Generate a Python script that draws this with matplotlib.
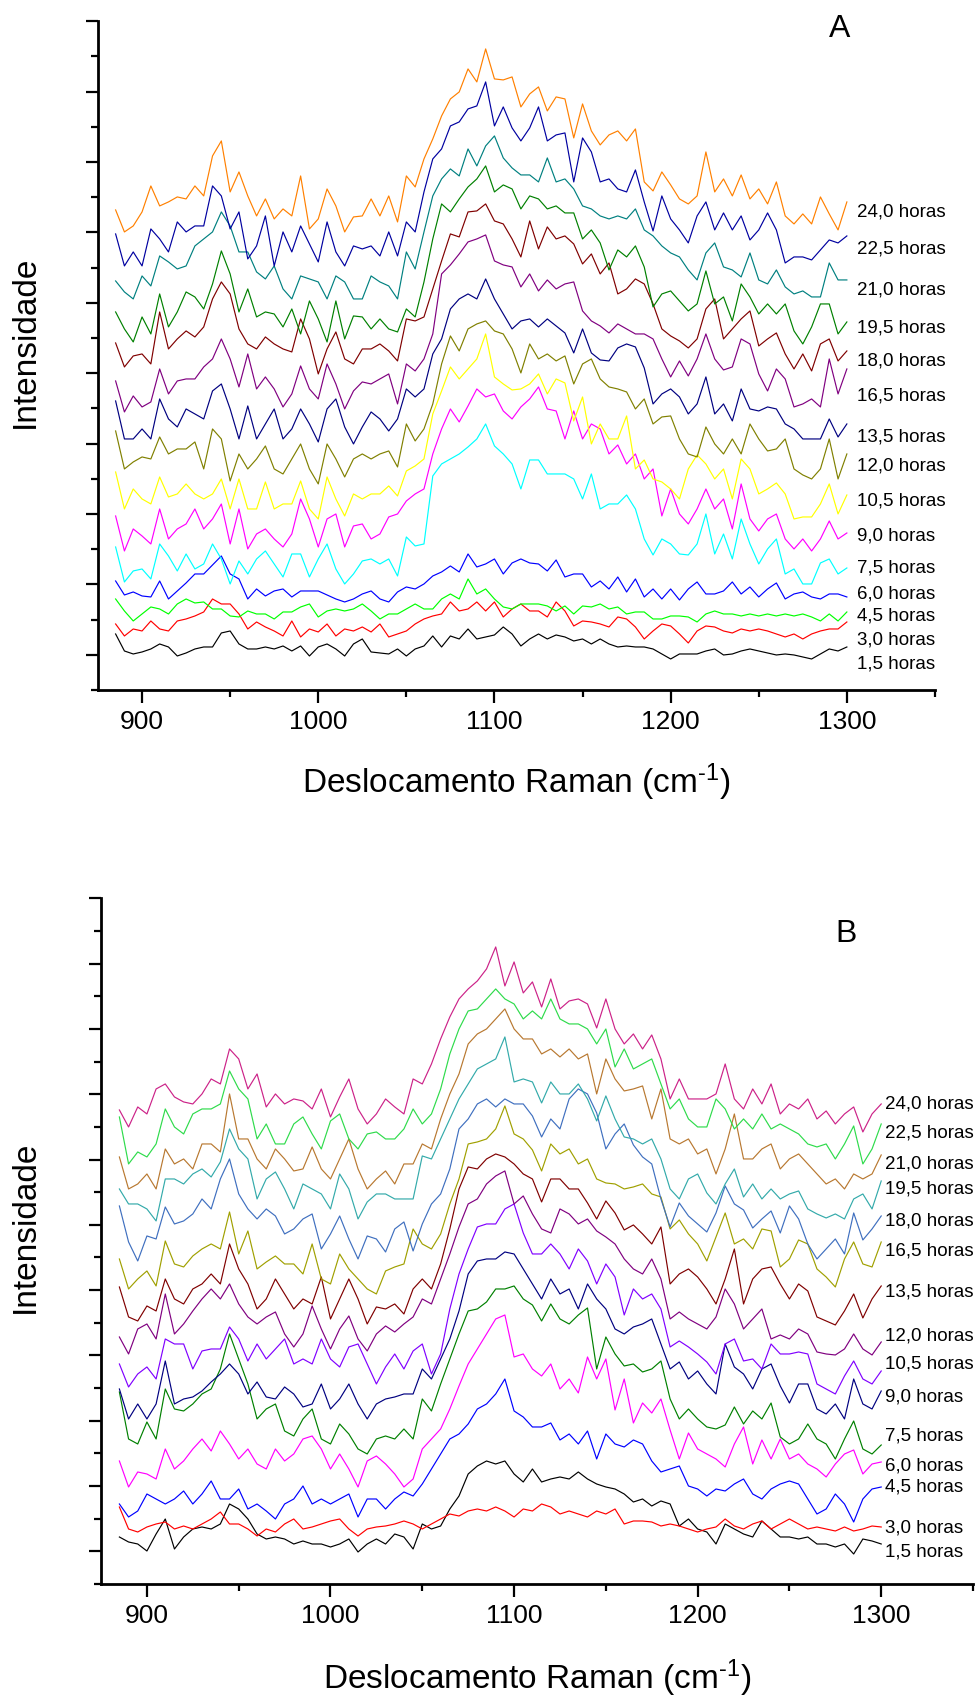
import numpy as np
import matplotlib.pyplot as plt
from matplotlib.ticker import MultipleLocator

plt.rcParams['font.family'] = ['Liberation Sans', 'DejaVu Sans']
plt.rcParams['mathtext.fontset'] = 'custom'
plt.rcParams['mathtext.rm'] = 'Liberation Sans'
plt.rcParams['mathtext.it'] = 'Liberation Sans:italic'
plt.rcParams['mathtext.bf'] = 'Liberation Sans:bold'

shift = np.arange(885, 1301, 5)

hours = ['1,5', '3,0', '4,5', '6,0', '7,5', '9,0', '10,5', '12,0',
         '13,5', '16,5', '18,0', '19,5', '21,0', '22,5', '24,0']

# ---- panel A: stacked spectra, arbitrary units ----
a_01_5 = [56,39,36,38,41,46,43,34,37,41,43,43,57,59,46,41,41,43,41,44,39,44,34,43,46,41,34,46,51,38,37,36,41,34,41,44,54,43,54,51,61,51,53,55,
          63,56,44,51,56,51,55,53,49,51,46,51,46,43,44,43,43,41,36,31,36,36,36,39,41,35,36,39,41,39,37,35,36,35,33,31,36,41,39,43]
a_03_0 = [66,54,61,59,69,61,59,69,71,74,78,91,86,86,76,61,68,63,59,54,69,53,61,58,66,54,61,59,63,58,66,53,56,59,66,71,74,76,88,79,81,88,79,88,
          73,81,86,79,79,73,88,79,64,69,68,66,63,73,71,63,51,59,66,64,56,47,59,64,63,59,57,61,59,61,59,56,53,56,51,56,59,61,61,68]
a_04_5 = [91,79,69,76,83,81,76,86,91,87,88,81,81,74,73,79,76,76,71,78,78,83,86,73,79,81,79,81,86,79,71,76,76,81,86,81,81,91,96,91,111,96,101,91,
          83,81,86,86,86,84,79,84,76,84,83,86,81,83,76,78,78,71,71,74,74,73,68,76,79,76,76,74,76,74,76,74,76,74,76,73,69,76,69,78]
a_06_0 = [109,95,98,94,93,109,91,99,107,116,116,125,134,116,111,91,101,94,99,101,93,99,99,99,95,91,88,91,96,99,91,88,98,103,101,106,114,118,124,118,136,123,126,131,
          116,127,131,127,126,119,130,113,116,116,103,109,101,113,98,111,93,101,91,101,90,101,108,96,96,99,108,96,103,93,101,107,91,96,98,93,91,96,96,93]
a_07_5 = [143,108,119,121,111,146,134,119,136,121,126,146,131,106,129,116,131,139,126,113,136,136,113,131,146,121,106,116,129,131,126,131,114,153,144,146,214,226,231,236,243,251,266,244,
          236,226,201,230,230,216,216,216,211,191,216,181,186,186,195,181,151,135,151,146,136,135,146,176,136,156,131,171,146,126,141,151,116,121,106,106,127,131,116,122]
a_09_0 = [174,139,161,154,146,181,151,161,166,181,161,171,186,146,181,141,156,161,151,143,156,191,171,143,171,176,143,164,166,151,156,173,176,189,196,201,236,261,281,268,284,301,293,296,
          279,271,283,291,303,281,279,251,279,251,266,261,236,245,226,236,211,221,174,201,176,166,181,201,181,191,161,206,171,159,171,176,151,141,151,139,151,169,151,157]
a_10_5 = [218,181,201,191,186,213,193,196,206,196,191,196,211,181,211,181,181,208,181,186,186,209,181,171,213,191,174,196,191,196,196,204,194,219,224,231,276,299,323,311,321,331,356,313,
          306,300,301,306,316,296,311,307,269,293,246,266,251,251,274,221,230,211,208,201,191,221,235,226,211,221,191,231,221,196,201,207,196,171,173,173,186,206,176,195]
a_12_0 = [259,221,228,233,231,253,236,241,241,248,221,261,251,209,236,221,231,244,221,216,231,246,221,206,246,231,213,231,236,231,236,239,223,266,249,261,286,326,354,339,361,366,369,359,
          356,341,317,346,331,336,329,334,306,326,331,311,303,301,298,281,291,266,273,274,251,236,233,263,246,236,251,236,266,251,239,241,251,221,215,211,221,251,211,236]
a_13_5 = [289,251,251,261,251,291,271,263,281,276,271,299,306,281,251,284,251,266,281,251,261,281,266,248,281,291,263,246,263,278,271,259,271,301,293,301,336,351,381,391,396,391,411,391,
          376,361,369,371,363,371,364,357,337,361,337,330,329,342,346,343,322,286,296,301,293,276,286,313,276,286,269,301,281,279,283,281,266,261,251,251,251,271,253,266]
a_16_5 = [309,278,294,283,288,321,296,309,311,311,323,331,351,331,303,336,301,313,301,283,296,324,301,291,326,306,281,299,308,306,311,316,286,326,319,331,356,416,425,436,448,451,455,429,
          425,423,403,416,399,410,401,406,408,379,369,364,357,366,361,356,356,351,331,313,329,314,331,356,331,320,323,351,346,316,299,321,311,283,286,291,283,331,296,321]
a_18_0 = [347,323,334,336,326,378,341,351,359,353,363,391,408,396,361,346,341,353,346,341,338,371,351,316,341,358,331,326,341,341,346,339,329,371,369,373,401,429,456,453,478,479,486,469,
          466,451,433,469,441,463,451,454,446,426,436,416,427,396,401,411,406,386,361,354,349,342,351,381,391,351,361,371,379,344,351,357,336,321,336,319,346,351,329,339]
a_19_5 = [378,361,348,373,356,396,363,378,398,393,381,406,439,416,378,401,373,378,376,363,381,356,389,371,348,389,351,374,373,361,371,361,358,381,373,408,451,486,478,491,503,511,524,498,
          505,501,481,494,491,481,484,477,477,451,460,447,420,440,433,444,423,383,396,399,389,379,386,419,386,393,369,406,393,376,386,376,386,359,346,363,386,386,356,368]
a_21_0 = [409,398,391,414,404,434,428,421,424,444,451,458,478,464,438,438,418,411,424,401,391,414,411,408,391,414,408,391,391,414,408,404,391,438,421,458,494,511,521,514,541,524,544,554,
          532,522,515,515,508,532,508,511,501,484,481,474,471,474,471,481,460,454,444,437,433,420,410,437,447,423,420,413,437,410,406,420,403,396,399,393,393,427,410,410]
a_22_5 = [456,424,438,424,461,451,438,468,458,464,464,504,494,461,478,431,444,474,424,458,438,464,446,428,468,438,424,444,441,444,434,458,434,468,458,498,531,541,564,568,581,584,608,564,
          583,562,549,562,583,549,555,557,508,552,538,508,511,501,498,520,488,459,494,471,460,447,474,488,460,477,460,474,450,460,477,460,427,433,433,430,440,450,447,454]
a_24_0 = [480,458,464,478,504,484,488,493,491,504,494,534,549,498,518,494,474,491,471,481,474,514,461,471,501,484,458,473,474,491,474,494,468,514,503,531,551,574,591,598,621,608,641,611,
          610,613,583,596,603,579,593,591,552,586,559,545,555,559,549,561,508,499,518,505,491,486,494,538,498,511,494,515,491,501,486,508,474,466,476,466,493,476,460,488]

# ---- panel B: stacked spectra, arbitrary units ----
b_01_5 = [47,42,40,33,50,65,35,47,55,57,55,60,80,75,65,50,45,47,45,40,43,40,40,37,40,45,32,40,45,40,50,47,35,60,55,58,75,88,110,118,123,120,
          123,110,102,115,102,105,107,105,112,105,100,97,95,90,82,85,78,83,80,58,65,55,52,40,60,55,50,47,63,55,47,47,45,47,40,40,37,40,30,45,43,40]
b_03_0 = [77,55,52,57,60,62,55,58,55,60,65,72,60,60,55,48,55,52,60,65,55,57,60,63,65,55,48,55,57,58,60,63,60,55,60,65,70,68,73,75,73,77,
          73,67,75,73,80,77,70,73,70,67,73,70,75,60,63,63,62,58,60,58,55,52,55,57,65,58,55,60,63,55,60,65,60,55,57,55,53,57,53,55,58,57]
b_04_5 = [80,67,73,90,85,80,85,93,80,90,103,85,85,95,75,80,73,65,80,85,98,80,85,80,85,90,67,85,85,75,85,92,88,100,115,130,145,150,160,175,180,190,
          205,173,167,157,157,161,144,150,140,153,125,150,140,137,144,140,123,112,115,118,98,95,88,95,93,100,105,90,85,95,100,103,100,85,70,75,90,80,62,85,95,97]
b_06_0 = [123,97,112,110,105,135,115,123,135,145,133,153,140,125,135,120,115,135,123,130,145,148,135,115,130,115,97,123,128,120,110,97,105,135,145,155,175,198,220,235,250,265,
          269,227,230,215,208,220,195,205,191,227,205,225,174,205,161,181,171,185,154,125,151,135,130,125,117,140,157,120,144,125,145,125,130,120,115,107,120,130,134,110,120,122]
b_07_5 = [192,145,140,162,145,195,175,173,180,190,195,215,250,225,200,165,175,180,153,148,165,175,145,140,160,150,135,130,145,148,145,155,145,185,173,200,225,250,273,275,282,295,
          295,298,285,279,263,280,265,260,269,276,215,247,230,218,220,212,215,223,185,165,175,165,157,155,159,177,160,173,165,181,147,140,145,160,145,140,125,145,163,135,130,139]
b_09_0 = [195,165,180,165,180,223,180,185,187,193,202,210,220,210,190,202,187,185,197,190,177,180,200,175,185,200,180,165,180,185,187,190,190,215,205,225,245,273,310,323,325,325,
          332,330,315,300,285,305,290,295,275,300,285,275,255,250,257,260,265,240,215,222,205,213,200,190,240,217,210,195,215,220,198,181,200,200,175,170,180,165,205,180,175,193]
b_10_5 = [220,197,210,217,205,245,240,240,215,233,235,235,257,245,223,240,225,235,245,220,225,220,245,225,217,237,240,220,200,217,230,215,233,240,210,230,275,310,335,357,360,360,
          375,380,351,330,330,340,330,315,335,323,300,320,307,269,295,285,290,275,237,243,237,230,222,210,240,245,223,225,215,240,230,230,232,230,200,195,190,208,223,205,200,213]
b_12_0 = [247,230,255,260,245,290,250,260,273,285,295,285,300,280,267,260,267,272,250,237,250,278,255,235,255,268,245,233,250,258,252,260,267,285,280,305,330,357,380,385,400,408,
          413,380,388,370,355,351,375,370,360,365,353,347,340,325,315,310,325,305,265,272,265,260,255,267,295,280,255,265,275,245,249,245,255,250,232,230,229,235,250,235,229,242]
b_13_5 = [297,267,263,278,273,305,285,280,295,300,310,300,340,315,300,275,285,305,290,275,285,280,307,265,285,305,285,260,277,275,280,270,295,305,295,320,355,395,417,415,425,430,
          427,420,410,405,382,405,405,395,395,381,365,383,371,354,359,350,340,357,300,310,315,307,295,280,305,335,280,305,315,317,300,285,300,293,267,263,259,273,290,266,285,298]
b_16_5 = [325,295,305,313,298,343,320,317,328,335,340,335,372,330,353,315,322,328,320,320,310,340,305,300,330,315,305,295,290,313,317,320,355,340,335,350,380,405,440,442,445,455,
          478,450,445,434,413,440,430,435,420,425,405,401,400,395,397,400,390,387,355,364,350,340,323,347,371,340,345,335,355,353,317,325,344,340,315,307,297,325,342,320,317,342]
b_18_0 = [378,342,323,348,345,377,360,363,370,385,375,405,425,390,375,365,375,368,350,355,365,370,335,350,368,345,325,348,345,332,355,362,333,360,380,390,415,455,465,480,485,477,
          485,480,480,468,447,465,455,485,495,490,471,435,450,460,439,427,420,385,357,381,368,360,352,371,398,380,374,356,365,373,351,378,365,340,325,335,345,330,371,344,355,368]
b_19_5 = [395,380,380,375,363,405,405,400,410,415,407,422,455,435,425,385,405,412,395,375,400,395,390,375,410,395,365,382,390,390,385,385,385,428,425,445,465,485,500,515,520,525,
          547,502,505,502,481,502,490,490,500,485,463,488,465,447,445,440,445,425,395,385,405,410,391,380,400,415,387,400,385,395,385,390,393,375,370,366,370,365,385,390,375,403]
b_21_0 = [427,395,400,410,395,435,420,425,415,440,440,432,490,445,445,425,415,435,425,413,415,437,415,405,425,445,415,395,405,413,400,420,420,440,435,465,490,510,540,550,555,565,
          575,555,545,545,530,535,527,535,525,530,490,525,505,493,495,498,465,495,445,440,445,430,435,410,435,470,425,425,435,440,415,425,430,420,410,400,405,395,410,405,410,429]
b_22_5 = [467,420,432,427,440,475,457,450,470,475,475,480,513,495,485,445,460,440,440,460,467,450,435,463,470,445,435,450,452,445,445,455,475,460,470,495,530,555,573,575,585,595,
          585,580,565,573,565,585,565,560,560,555,540,555,517,535,515,520,525,500,475,485,465,457,457,485,475,455,465,455,470,455,460,455,450,440,437,440,425,440,458,420,435,460]
b_24_0 = [474,457,477,470,495,500,487,482,480,490,505,500,535,525,495,510,477,490,480,485,483,475,495,467,487,505,475,460,470,485,477,470,505,500,520,545,567,585,595,603,615,637,
          598,622,591,602,577,605,575,583,585,580,556,585,555,540,550,535,549,525,485,505,485,485,485,490,520,485,475,495,480,500,470,480,475,485,465,473,460,470,477,452,470,480]

spectra_a = [a_01_5, a_03_0, a_04_5, a_06_0, a_07_5, a_09_0, a_10_5, a_12_0,
             a_13_5, a_16_5, a_18_0, a_19_5, a_21_0, a_22_5, a_24_0]
spectra_b = [b_01_5, b_03_0, b_04_5, b_06_0, b_07_5, b_09_0, b_10_5, b_12_0,
             b_13_5, b_16_5, b_18_0, b_19_5, b_21_0, b_22_5, b_24_0]

colors_a = ['#000000', '#FF0000', '#00FF00', '#0000FF', '#00FFFF', '#FF00FF', '#FFFF00', '#808000',
            '#000080', '#800080', '#800000', '#008000', '#008080', '#0000A0', '#FF8000']
colors_b = ['#000000', '#FF0000', '#0000FF', '#FF00FF', '#008000', '#000080', '#8000FF', '#800080',
            '#800000', '#A0A000', '#3F6FBF', '#33AAAA', '#B87830', '#2EDB4B', '#CC2288']

# where the time labels sit (intensity axis)
label_y_a = [27, 51, 75, 97, 123, 155, 190, 225, 254, 295, 330, 363, 401, 442, 479]
label_y_b = [33, 57, 98, 119, 149, 188, 221, 249, 293, 334, 364, 396, 421, 452, 481]

fig = plt.figure(figsize=(9.78, 16.99), dpi=100)
ax_a = fig.add_axes([0.1002, 0.5933, 0.8558, 0.3938])
ax_b = fig.add_axes([0.1033, 0.0671, 0.8916, 0.4038])


def draw_panel(ax, spectra, colors, label_y, label_x, ymax, minor, letter, letter_xy):
    for vals, col in zip(spectra, colors):
        x = np.linspace(shift[0], shift[-1], len(vals))
        ax.plot(x, vals, color=col, lw=0.85, solid_joinstyle='round')
    for h, y in zip(hours, label_y):
        ax.text(label_x, y, h + ' horas', fontsize=13.5, ha='left', va='center', clip_on=False)
    ax.text(letter_xy[0], letter_xy[1], letter, fontsize=23, ha='center', va='center')

    ax.set_xlim(875, 1350)
    ax.set_ylim(0, ymax)
    ax.spines['top'].set_visible(False)
    ax.spines['right'].set_visible(False)
    ax.spines['left'].set_linewidth(2.0)
    ax.spines['bottom'].set_linewidth(2.0)

    ax.xaxis.set_major_locator(MultipleLocator(100))
    ax.xaxis.set_minor_locator(MultipleLocator(50))
    ax.yaxis.set_major_locator(MultipleLocator(2 * minor, offset=minor))
    ax.yaxis.set_minor_locator(MultipleLocator(minor))
    ax.tick_params(which='major', direction='out', length=9, width=1.6, labelsize=19, pad=5)
    ax.tick_params(which='minor', direction='out', length=5, width=1.6)
    ax.tick_params(axis='y', which='both', labelleft=False)

    ax.set_xlabel('Deslocamento Raman (cm$^{\u20101}$)', fontsize=24)
    ax.xaxis.set_label_coords(0.5, -0.136)
    ax.xaxis.label.set_verticalalignment('center')
    ax.set_ylabel('Intensidade', fontsize=24)
    ax.yaxis.set_label_coords(-0.087, 0.522)
    ax.yaxis.label.set_verticalalignment('center')


draw_panel(ax_a, spectra_a, colors_a, label_y_a, 1306, 669, 35.2, 'A', (1296, 662))
draw_panel(ax_b, spectra_b, colors_b, label_y_b, 1302, 686, 32.65, 'B', (1281, 651))

fig.savefig('out.png', dpi=100)
